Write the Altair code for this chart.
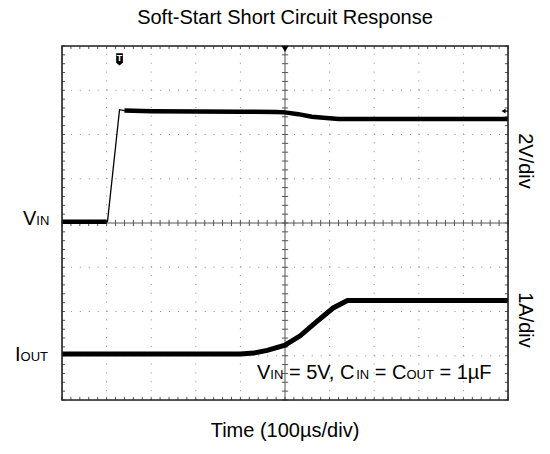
import altair as alt
import pandas as pd
import numpy as np

FONT = "Liberation Sans"

# ---------------- data read from the scope shot ----------------
# V_IN trace (2 V/div), time in microseconds (100 us/div)
vin_time_us = [0, 100, 102, 129, 140, 200, 300, 400, 480, 500, 530, 560, 600, 620, 700, 800, 900, 1000]
vin_volts = [0.06, 0.06, 0.06, 5.12, 5.08, 5.05, 5.04, 5.03, 5.02, 5.0, 4.92, 4.80, 4.73, 4.70, 4.70, 4.70, 4.70, 4.70]

# I_OUT trace (1 A/div)
iout_time_us = [0, 100, 200, 300, 400, 430, 460, 500, 534, 571, 608, 640, 700, 800, 900, 1000]
iout_amps = [0.0, 0.0, 0.0, 0.0, 0.0, 0.02, 0.08, 0.2, 0.41, 0.73, 1.04, 1.21, 1.21, 1.21, 1.21, 1.21]

VIN_VOLTS_PER_DIV = 2.0
IOUT_AMPS_PER_DIV = 1.0
VIN_GROUND_DIV = 0.0
IOUT_GROUND_DIV = -2.96

title_text = "Soft-Start Short Circuit Response"
x_title = "Time (100µs/div)"
vin_label = [("V", False), ("IN", True)]
iout_label = [("I", False), ("OUT", True)]
annot_runs = [("V", False), ("IN", True), (" = 5V, C", False), ("IN", True),
              (" = C", False), ("OUT", True), (" = 1µF", False)]
right_labels = ["2V/div", "1A/div"]

# ---------------- geometry ----------------
W, H = 446, 354
NX, NY = 10, 8
xs = alt.Scale(domain=[0, NX], nice=False, zero=False)
ys = alt.Scale(domain=[-NY / 2, NY / 2], nice=False, zero=False)

# Arial / Liberation Sans advance widths (1/1000 em)
ADV = {"V": 667, "I": 278, "N": 722, " ": 278, "=": 584, "5": 556, ",": 278,
       "C": 722, "O": 778, "U": 722, "T": 611, "1": 556, "µ": 576, "F": 611}


def layout_runs(runs, x0, y0, main_fs, sub_fs):
    rows = []
    x = x0
    for txt, sub in runs:
        fs = sub_fs if sub else main_fs
        lead = len(txt) - len(txt.lstrip(" "))
        x += lead * ADV[" "] / 1000 * fs
        body = txt.lstrip(" ")
        rows.append({"t": body, "px": x, "py": y0, "fs": fs})
        x += sum(ADV.get(c, 556) for c in body) / 1000 * fs
    return rows


def X(f="x"):
    return alt.X(f + ":Q", scale=xs, axis=None)


def Y(f="y"):
    return alt.Y(f + ":Q", scale=ys, axis=None)


# ---------------- frames ----------------
vin_df = pd.DataFrame({"x": np.array(vin_time_us) / 100.0,
                       "y": np.array(vin_volts) / VIN_VOLTS_PER_DIV + VIN_GROUND_DIV})
vin_df["seg"] = np.where(np.array(vin_time_us) <= 100, "base",
                         np.where(np.array(vin_time_us) >= 135, "top", "rise"))
vin_thick = vin_df[vin_df["seg"] != "rise"]

iout_df = pd.DataFrame({"x": np.array(iout_time_us) / 100.0,
                        "y": np.array(iout_amps) / IOUT_AMPS_PER_DIV + IOUT_GROUND_DIV})

grid_v = pd.DataFrame({"x": [i for i in range(1, NX) if i != NX // 2], "y": -NY / 2, "y2": NY / 2})
grid_h = pd.DataFrame({"y": [j for j in range(-NY // 2 + 1, NY // 2) if j != 0], "x": 0, "x2": NX})
center = pd.DataFrame({"x": [0, NX / 2], "x2": [NX, NX / 2], "y": [0, -NY / 2], "y2": [0, NY / 2]})
frame_df = pd.DataFrame({"x": [0], "x2": [NX], "y": [-NY / 2], "y2": [NY / 2]})

tk = 0.07
minor_x = np.round(np.arange(0, NX + 1e-9, 0.2), 3)
minor_y = np.round(np.arange(-NY / 2, NY / 2 + 1e-9, 0.2), 3)
ticks = []
for mx in minor_x:
    ticks += [(mx, mx, NY / 2, NY / 2 - tk), (mx, mx, -NY / 2, -NY / 2 + tk), (mx, mx, -tk, tk)]
for my in minor_y:
    ticks += [(0, tk, my, my), (NX, NX - tk, my, my), (NX / 2 - tk, NX / 2 + tk, my, my)]
ticks_df = pd.DataFrame(ticks, columns=["x", "x2", "y", "y2"])

# ---------------- layers ----------------
g_v = alt.Chart(grid_v).mark_rule(color="#8a8a8a", strokeWidth=1, strokeDash=[1, 7.85]).encode(
    x=X(), y=Y(), y2="y2:Q")
g_h = alt.Chart(grid_h).mark_rule(color="#8a8a8a", strokeWidth=1, strokeDash=[1, 7.92]).encode(
    x=X(), x2="x2:Q", y=Y())
c_l = alt.Chart(center).mark_rule(color="#555", strokeWidth=1).encode(
    x=X(), x2="x2:Q", y=Y(), y2="y2:Q")
t_l = alt.Chart(ticks_df).mark_rule(color="#555", strokeWidth=1).encode(
    x=X(), x2="x2:Q", y=Y(), y2="y2:Q")
frame = alt.Chart(frame_df).mark_rect(fillOpacity=0, stroke="#222", strokeWidth=1.6).encode(
    x=X(), x2="x2:Q", y=Y(), y2="y2:Q")

vin_thin = alt.Chart(vin_df).mark_line(color="#000", strokeWidth=1.3).encode(x=X(), y=Y())
vin_band = alt.Chart(vin_thick).mark_line(color="#000", strokeWidth=4.5).encode(
    x=X(), y=Y(), detail="seg:N")
iout_line = alt.Chart(iout_df).mark_line(color="#000", strokeWidth=5).encode(x=X(), y=Y())

# scope markers: trigger point "T", trigger position, reference arrow
trig_df = pd.DataFrame({"x": [1.29], "y": [3.70], "t": ["T"]})
trig_shape = alt.Chart(trig_df).mark_point(
    shape="M-0.55,-1L0.55,-1L0.55,0.55L0,1L-0.55,0.55Z", filled=True, color="#000",
    opacity=1, size=150).encode(x=X(), y=Y())
trig_text = alt.Chart(trig_df).mark_text(font=FONT, fontSize=9, fontWeight="bold", color="#fff",
                                         dy=-1).encode(x=X(), y=Y(), text="t:N")
tpos_df = pd.DataFrame({"x": [NX / 2], "y": [3.93]})
tpos = alt.Chart(tpos_df).mark_point(shape="triangle-down", filled=True, color="#000", opacity=1,
                                     size=45).encode(x=X(), y=Y())
ref_df = pd.DataFrame({"x": [9.90], "y": [2.53]})
ref = alt.Chart(ref_df).mark_point(shape="triangle-left", filled=True, color="#000", opacity=1,
                                   size=22).encode(x=X(), y=Y())
ref_tail = alt.Chart(pd.DataFrame({"x": [9.90], "x2": [NX], "y": [2.53]})).mark_rule(
    color="#000", strokeWidth=1.2).encode(x=X(), x2="x2:Q", y=Y())

# text annotations (pixel positions inside the plot group)
txt_rows = (layout_runs(annot_runs, 195.0, 333.0, 20, 13)
            + layout_runs(vin_label, -39.0, 179.0, 20, 13)
            + layout_runs(iout_label, -47.0, 315.0, 20, 13))
txt_df = pd.DataFrame(txt_rows)
texts = alt.Chart(txt_df).mark_text(font=FONT, align="left", baseline="alphabetic", color="#000").encode(
    x=alt.X("px:Q", scale=None, axis=None), y=alt.Y("py:Q", scale=None, axis=None),
    size=alt.Size("fs:Q", scale=None, legend=None), text="t:N")

rl_df = pd.DataFrame({"t": right_labels, "px": [463.0, 463.0], "py": [115.0, 274.0]})
rtexts = alt.Chart(rl_df).mark_text(font=FONT, fontSize=20, angle=90, align="center",
                                    baseline="middle", color="#000").encode(
    x=alt.X("px:Q", scale=None, axis=None), y=alt.Y("py:Q", scale=None, axis=None), text="t:N")

tt_df = pd.DataFrame({"t": [title_text, x_title], "px": [W / 2, W / 2], "py": [-22.0, 391.0]})
ttexts = alt.Chart(tt_df).mark_text(font=FONT, fontSize=20, align="center", baseline="alphabetic",
                                    color="#000").encode(
    x=alt.X("px:Q", scale=None, axis=None), y=alt.Y("py:Q", scale=None, axis=None), text="t:N")

chart = alt.layer(
    g_v, g_h, c_l, t_l, vin_thin, vin_band, iout_line, frame,
    trig_shape, trig_text, tpos, ref, ref_tail, texts, rtexts, ttexts
).properties(
    width=W, height=H,
    autosize="none",
    padding={"left": 54, "top": 38, "right": 34, "bottom": 46},
).configure_view(strokeWidth=0).configure(background="#ffffff")

chart.save("out.html", embed_options={"renderer": "svg", "actions": False})
